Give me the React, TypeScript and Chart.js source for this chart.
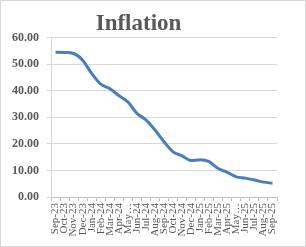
import React, { useEffect, useRef } from "react";
import { Chart, registerables } from "chart.js";

Chart.register(...registerables);

const categories = [
  "Sep-23", "Oct-23", "Nov-23", "Dec-23", "Jan-24", "Feb-24", "Mar-24", "Apr-24", "May…",
  "Jun-24", "Jul-24", "Aug-24", "Sep-24", "Oct-24", "Nov-24", "Dec-24", "Jan-25", "Feb-25",
  "Mar-25", "Apr-25", "May…", "Jun-25", "Jul-25", "Aug-25", "Sep-25",
];
const inflation = [
  54.5, 54.4, 54.0, 51.5, 46.5, 42.5, 40.8, 38.2, 35.8, 31.5, 29.0, 25.2, 20.8,
  17.0, 15.5, 13.7, 14.0, 13.3, 10.7, 9.3, 7.6, 7.1, 6.4, 5.6, 5.2,
];
const yTicks = [0, 10, 20, 30, 40, 50, 60];

const borderPlugin = {
  id: "outerBorder",
  afterDraw(chart: any) {
    const ctx = chart.ctx;
    ctx.save();
    ctx.strokeStyle = "#d9d9d9";
    ctx.lineWidth = 1;
    ctx.strokeRect(0.5, 0.5, chart.width - 1, chart.height - 1);
    ctx.restore();
  },
};

export default function App() {
  const ref = useRef<HTMLCanvasElement>(null);
  useEffect(() => {
    document.body.style.margin = "0";
    const chart = new Chart(ref.current!, {
      type: "line",
      data: {
        labels: categories,
        datasets: [
          {
            label: "Inflation",
            data: inflation,
            borderColor: "#4A7EBB",
            borderWidth: 3,
            pointRadius: 0,
            tension: 0.4,
            cubicInterpolationMode: "monotone",
            fill: false,
          },
        ],
      },
      options: {
        animation: false,
        responsive: false,
        maintainAspectRatio: false,
        layout: { padding: { left: 0, right: 29, top: 0, bottom: 0 } },
        plugins: {
          legend: { display: false },
          tooltip: { enabled: false },
          title: {
            display: true,
            text: "Inflation",
            color: "#595959",
            font: { family: "'Liberation Serif', 'Times New Roman', serif", size: 23, weight: "bold" },
            padding: { top: 10, bottom: 0 },
          },
        },
        scales: {
          x: {
            offset: true,
            grid: { display: true, drawOnChartArea: false, drawTicks: true, tickLength: 4, offset: true, color: "#bfbfbf" },
            border: { display: true, color: "#bfbfbf" },
            ticks: {
              autoSkip: false,
              maxRotation: 90,
              minRotation: 90,
              padding: 2,
              color: "#595959",
              font: { family: "'Liberation Serif', 'Times New Roman', serif", size: 11 },
            },
            afterFit: (s: any) => { s.height = 50; },
          },
          y: {
            min: 0,
            max: 60,
            afterBuildTicks: (s: any) => { s.ticks = yTicks.map((v) => ({ value: v })); },
            grid: { color: "#d9d9d9", tickLength: 4 },
            border: { display: true, color: "#d9d9d9" },
            ticks: {
              color: "#595959",
              padding: 8,
              font: { family: "'Liberation Serif', 'Times New Roman', serif", size: 12, weight: "bold" },
              callback: (v: any) => Number(v).toFixed(2),
            },
            afterFit: (s: any) => { s.width = 51; },
          },
        },
      },
      plugins: [borderPlugin],
    } as any);
    return () => chart.destroy();
  }, []);
  return (
    <div style={{ position: "absolute", left: 0, top: 0, width: 306, height: 247 }}>
      <canvas ref={ref} width={306} height={247} style={{ width: 306, height: 247, display: "block" }} />
    </div>
  );
}
